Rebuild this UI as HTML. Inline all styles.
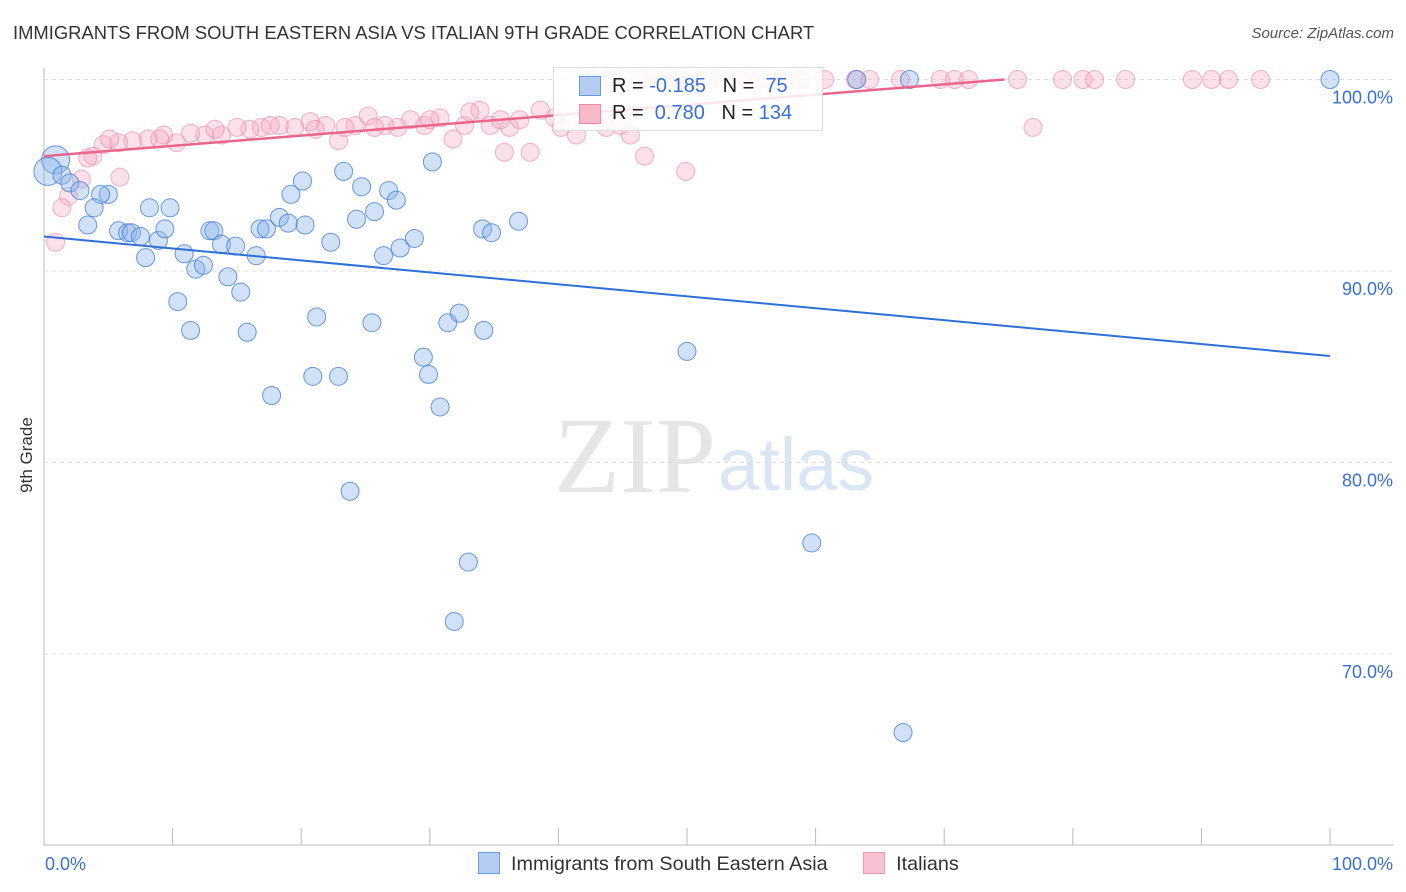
<!DOCTYPE html>
<html><head><meta charset="utf-8"><style>
body{margin:0;background:#fff;font-family:"Liberation Sans",sans-serif;}
#wrap{position:relative;width:1406px;height:892px;overflow:hidden;}
.t{position:absolute;white-space:nowrap;}
</style></head><body>
<div id="wrap">
<div class="t" style="left:13px;top:22px;font-size:18.4px;color:#333;">IMMIGRANTS FROM SOUTH EASTERN ASIA VS ITALIAN 9TH GRADE CORRELATION CHART</div>
<div class="t" style="right:12px;top:25px;font-size:15px;color:#555;font-style:italic;">Source: ZipAtlas.com</div>
<div class="t" style="left:-13px;top:445px;width:80px;text-align:center;font-size:17px;color:#333;transform:rotate(-90deg);transform-origin:center;">9th Grade</div>
<svg id="svg" width="1406" height="892" style="position:absolute;left:0;top:0">
<text x="716" y="492" font-size="108" font-family="Liberation Serif" fill="#e6e6e6" text-anchor="end">ZIP</text>
<text x="718" y="490" font-size="74" font-family="Liberation Sans" fill="#dbe6f4">atlas</text>
</svg>
<div style="position:absolute;left:553px;top:67px;width:268px;height:62px;border:1px solid #ddd;background:rgba(255,255,255,0.85);font-size:20px;">
<div style="position:absolute;left:25px;top:8px;width:20px;height:18px;background:#b5cdf2;border:1px solid #6a9be0"></div>
<div class="t" style="left:58px;top:7px;color:#222">R = <span style="color:#3a6fd6">-0.185</span>&nbsp;&nbsp;&nbsp;N = &nbsp;<span style="color:#3a6fd6">75</span></div>
<div style="position:absolute;left:25px;top:36px;width:20px;height:18px;background:#f7b8ca;border:1px solid #ef8aa8"></div>
<div class="t" style="left:58px;top:34px;color:#222">R = &nbsp;<span style="color:#3a6fd6">0.780</span>&nbsp;&nbsp;&nbsp;N = <span style="color:#3a6fd6">134</span></div>
</div>
<div style="position:absolute;left:478px;top:852px;font-size:19.8px;color:#333;">
<span style="display:inline-block;width:20px;height:20px;background:#b5cdf2;border:1px solid #6a9be0;vertical-align:-4px"></span>&nbsp; Immigrants from South Eastern Asia
<span style="display:inline-block;width:20px;height:20px;background:#f7c3d2;border:1px solid #ef9ab3;vertical-align:-4px;margin-left:30px"></span>&nbsp; Italians
</div>
</div>
<script>
const blueX=[0.9,0.3,1.4,2.0,2.8,5.0,4.4,3.9,3.4,5.8,6.5,6.8,7.5,7.9,8.2,8.9,9.4,9.8,10.4,10.9,11.4,11.8,12.4,12.9,13.2,13.8,14.3,14.9,15.3,15.8,16.5,16.8,17.3,17.7,18.3,19.0,19.2,20.1,20.3,20.9,21.2,22.3,22.9,23.3,23.8,24.3,24.7,25.5,25.7,26.4,26.8,27.4,27.7,28.8,29.5,29.9,30.2,30.8,31.4,31.9,32.3,33.0,34.1,34.2,34.8,36.9,50.0,59.7,66.8,63.2,67.3,100,42.5];
const blueY=[95.8,95.2,95.0,94.6,94.2,94.0,94.0,93.3,92.4,92.1,92.0,92.0,91.8,90.7,93.3,91.6,92.2,93.3,88.4,90.9,86.9,90.1,90.3,92.1,92.1,91.4,89.7,91.3,88.9,86.8,90.8,92.2,92.2,83.5,92.8,92.5,94.0,94.7,92.4,84.5,87.6,91.5,84.5,95.2,78.5,92.7,94.4,87.3,93.1,90.8,94.2,93.7,91.2,91.7,85.5,84.6,95.7,82.9,87.3,71.7,87.8,74.8,92.2,86.9,92.0,92.6,85.8,75.8,65.9,100,100,100,99.8];
const pinkX=[42.5,44.0,46.3,47.9,49.4,51.0,52.6,54.1,55.7,57.2,58.8,60.7,63.1,64.2,66.6,69.7,70.8,71.9,75.7,79.2,80.8,81.7,84.1,89.3,90.8,92.1,94.6,76.9,49.9,46.7,45.6,43.7,41.4,39.7,38.6,37.8,35.8,36.2,37.0,34.7,33.9,32.7,31.8,30.8,29.6,28.5,27.5,26.5,25.2,24.2,22.9,21.9,20.7,19.5,18.3,16.9,16.0,15.0,13.8,12.5,11.4,10.3,9.3,8.1,6.9,5.8,4.6,3.8,3.4,5.9,2.9,1.9,1.4,0.9,17.6,21.1,23.4,25.7,30.0,33.1,35.5,40.2,44.8,13.3,9.0,5.1];
const pinkY=[100,100,100,100,100,100,100,100,100,100,100,100,100,100,100,100,100,100,100,100,100,100,100,100,100,100,100,97.5,95.2,96.0,97.1,97.5,97.1,98.0,98.4,96.2,96.2,97.5,97.9,97.6,98.4,97.6,96.9,98.0,97.6,97.9,97.5,97.6,98.1,97.6,96.8,97.6,97.8,97.5,97.6,97.5,97.4,97.5,97.1,97.1,97.2,96.7,97.1,96.9,96.8,96.7,96.6,96.0,95.9,94.9,94.8,93.9,93.3,91.5,97.6,97.4,97.5,97.5,97.9,98.3,97.9,97.5,97.6,97.4,96.9,96.9];
const blueTrendX=[0,100], blueTrendY=[91.8,85.56];
const pinkTrendX=[0,74.7], pinkTrendY=[96.0,100];
const yTicks=[100,90,80,70];
const xTickVals=[0,10,20,30,40,50,60,70,80,90,100];
const X0=44,X1=1330,YTOP=79.5,PPY=19.15;
const sx=v=>X0+(X1-X0)*v/100;
const sy=v=>YTOP+(100-v)*PPY;
const svg=document.getElementById('svg');
const NS='http://www.w3.org/2000/svg';
function mk(tag,at){const e=document.createElementNS(NS,tag);for(const k in at)e.setAttribute(k,at[k]);svg.appendChild(e);return e;}
let e;
e=mk('line',{x1:44,y1:68,x2:44,y2:845,stroke:'#bbb'});


e=mk('line',{x1:44,y1:845,x2:1394,y2:845,stroke:'#bbb'});


yTicks.forEach(v=>{
 const g=mk('line',{x1:44,y1:sy(v),x2:1394,y2:sy(v),stroke:'#ddd','stroke-dasharray':'4,4'});
 
 
 const t=mk('text',{x:1393,y:sy(v)+24,'font-size':18,fill:'#3a6fd6','text-anchor':'end'});
 t.textContent=v.toFixed(1)+'%';
 
 
});
xTickVals.forEach(v=>{
 const l=mk('line',{x1:sx(v),y1:828,x2:sx(v),y2:845,stroke:'#bbb'});
 
 
});
[[0,'start',45],[100,'end',1393]].forEach(([v,a,x])=>{
 const t=mk('text',{x:x,y:870,'font-size':18,fill:'#3a6fd6','text-anchor':a});
 t.textContent=v.toFixed(1)+'%';
 
 
});
pinkX.forEach((x,i)=>{
 const c=mk('circle',{cx:sx(x),cy:sy(pinkY[i]),r:9,fill:'rgba(247,170,195,0.35)',stroke:'rgba(235,130,165,0.6)','stroke-width':1});
 
 
});
blueX.forEach((x,i)=>{
 const big=i<2;
 const c=mk('circle',{cx:sx(x),cy:sy(blueY[i]),r:big?14:9,fill:'rgba(140,180,235,0.4)',stroke:'rgba(60,120,215,0.75)','stroke-width':1});
 
 
});
e=mk('line',{x1:sx(blueTrendX[0]),y1:sy(blueTrendY[0]),x2:sx(blueTrendX[1]),y2:sy(blueTrendY[1]),stroke:'#2f6fd6','stroke-width':2});


e=mk('line',{x1:sx(pinkTrendX[0]),y1:sy(pinkTrendY[0]),x2:sx(pinkTrendX[1]),y2:sy(pinkTrendY[1]),stroke:'#e8668e','stroke-width':2.5});


</script>
</body></html>
